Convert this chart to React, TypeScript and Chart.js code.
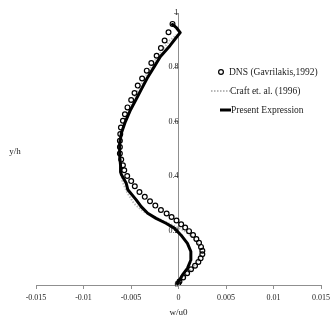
import React, { useEffect, useRef } from "react";
import { Chart, registerables } from "chart.js";

Chart.register(...registerables);

// ---- data ----
const seriesNames = ["DNS (Gavrilakis,1992)", "Craft et. al. (1996)", "Present Expression"];
const xTitle = "w/u0";
const yTitle = "y/h";

const xTickValues = [-0.015, -0.01, -0.005, 0, 0.005, 0.01, 0.015];
const xTickLabels = ["-0.015", "-0.01", "-0.005", "0", "0.005", "0.01", "0.015"];
const yTickValues = [0, 0.2, 0.4, 0.6, 0.8, 1];
const yTickLabels = ["0", "0.2", "0.4", "0.6", "0.8", "1"];

const dnsX = [
  -0.00063, -0.00105, -0.00146, -0.00185, -0.0023, -0.00286, -0.00334, -0.00383, -0.00429, -0.00463,
  -0.00498, -0.00537, -0.00564, -0.00585, -0.00606, -0.00613, -0.00617, -0.00617, -0.00617, -0.00603,
  -0.00585, -0.00571, -0.0054, -0.00498, -0.0046, -0.00411, -0.00355, -0.003, -0.00244, -0.00185,
  -0.00125, -0.00073, -0.00021, 0.00028, 0.0007, 0.00111, 0.00153, 0.00188, 0.00216, 0.00237,
  0.00251, 0.00251, 0.00233, 0.00209, 0.00174, 0.00132, 0.00091, 0.00049, 0.0001, -0.00003,
];
const dnsY = [
  0.96, 0.929, 0.899, 0.871, 0.843, 0.816, 0.788, 0.759, 0.733, 0.706,
  0.68, 0.653, 0.628, 0.604, 0.579, 0.555, 0.53, 0.507, 0.483, 0.461,
  0.44, 0.422, 0.401, 0.382, 0.363, 0.342, 0.324, 0.308, 0.292, 0.276,
  0.263, 0.25, 0.237, 0.223, 0.211, 0.198, 0.184, 0.169, 0.155, 0.14,
  0.126, 0.113, 0.098, 0.085, 0.071, 0.058, 0.043, 0.028, 0.013, 0.005,
];

const craftX = [
  -0.0001, 0.0006, 0.0013, 0.0019, 0.0022, 0.0023, 0.0021, 0.0015, 0.0006, -0.0006,
  -0.0022, -0.0037, -0.0047, -0.0054, -0.0059, -0.0061, -0.0062, -0.0061, -0.0059, -0.0055,
  -0.0049, -0.0042, -0.0034, -0.0026, -0.0018, -0.0009, -0.0002,
];
const craftY = [
  0.005, 0.03, 0.055, 0.08, 0.1, 0.125, 0.15, 0.175, 0.2, 0.22,
  0.245, 0.27, 0.3, 0.34, 0.38, 0.42, 0.47, 0.52, 0.57, 0.62,
  0.67, 0.72, 0.77, 0.82, 0.86, 0.9, 0.92,
];

const presentX = [
  -0.00063, -0.0002, 0.00018, -0.0003, -0.0009, -0.0019, -0.0026, -0.0033, -0.0039, -0.0045,
  -0.0051, -0.0056, -0.006, -0.0062, -0.0062, -0.0061, -0.0061, -0.006, -0.0055, -0.00533,
  -0.00445, -0.00393, -0.00324, -0.00236, -0.00132, -0.00045, 0.00025, 0.00094, 0.0013, 0.0013,
  0.00094, 0.00042, -0.0001,
];
const presentY = [
  0.958, 0.945, 0.928, 0.907, 0.88, 0.84, 0.8, 0.76, 0.72, 0.68,
  0.64, 0.6, 0.56, 0.52, 0.48, 0.44, 0.415, 0.405, 0.374, 0.35,
  0.313, 0.288, 0.264, 0.245, 0.227, 0.209, 0.184, 0.153, 0.123, 0.092,
  0.061, 0.037, 0.006,
];

const FONT = '"Liberation Serif", "Times New Roman", serif';
const AXIS_COLOR = "#8f8f8f";
const TEXT_COLOR = "#222";

const toPoints = (xs: number[], ys: number[]) => xs.map((x, i) => ({ x, y: ys[i] }));

const overlayPlugin = {
  id: "overlayText",
  afterDraw(chart: any) {
    const ctx = chart.ctx as CanvasRenderingContext2D;
    ctx.save();
    ctx.font = `9px ${FONT}`;
    ctx.fillStyle = TEXT_COLOR;
    ctx.textBaseline = "middle";
    ctx.textAlign = "center";
    ctx.fillText(yTitle, 15, 152);

    ctx.font = `9.5px ${FONT}`;
    ctx.textAlign = "left";
    // DNS legend
    ctx.beginPath();
    ctx.arc(221, 72, 2.4, 0, Math.PI * 2);
    ctx.lineWidth = 1.2;
    ctx.strokeStyle = "#000";
    ctx.stroke();
    ctx.fillText(seriesNames[0], 229, 72);
    // Craft legend
    ctx.beginPath();
    ctx.setLineDash([1.5, 1.5]);
    ctx.strokeStyle = "#b8b8b8";
    ctx.lineWidth = 2;
    ctx.moveTo(211, 91);
    ctx.lineTo(230, 91);
    ctx.stroke();
    ctx.setLineDash([]);
    ctx.fillText(seriesNames[1], 230, 91);
    // Present legend
    ctx.beginPath();
    ctx.strokeStyle = "#000";
    ctx.lineWidth = 3;
    ctx.moveTo(220, 110);
    ctx.lineTo(231, 110);
    ctx.stroke();
    ctx.fillText(seriesNames[2], 231, 110);
    ctx.restore();
  },
};

export default function App() {
  const canvasRef = useRef<HTMLCanvasElement | null>(null);

  useEffect(() => {
    const canvas = canvasRef.current;
    if (!canvas) return;
    const chart = new Chart(canvas, {
      type: "scatter",
      data: {
        datasets: [
          {
            label: seriesNames[2],
            data: toPoints(presentX, presentY),
            showLine: true,
            borderColor: "#000",
            borderWidth: 3,
            borderCapStyle: "round",
            borderJoinStyle: "round",
            pointRadius: 0,
            tension: 0,
            order: 0,
          },
          {
            label: seriesNames[0],
            data: toPoints(dnsX, dnsY),
            showLine: false,
            pointStyle: "circle",
            pointRadius: 2.4,
            pointBorderWidth: 1.2,
            pointBorderColor: "#000",
            pointBackgroundColor: "rgba(255,255,255,0)",
            order: 1,
          },
          {
            label: seriesNames[1],
            data: toPoints(craftX, craftY),
            showLine: true,
            borderColor: "#bdbdbd",
            borderWidth: 2,
            borderDash: [1.5, 1.5],
            pointRadius: 0,
            tension: 0,
            order: 2,
          },
        ],
      },
      options: {
        responsive: false,
        animation: false,
        devicePixelRatio: 1,
        layout: { padding: { left: 36, right: 11, top: 13, bottom: 0 } },
        plugins: {
          legend: { display: false },
          tooltip: { enabled: false },
        },
        scales: {
          x: {
            type: "linear",
            position: "bottom",
            min: -0.015,
            max: 0.015,
            afterBuildTicks: (scale: any) => {
              scale.ticks = xTickValues.map((v) => ({ value: v }));
            },
            afterFit: (scale: any) => {
              scale.height = 35;
            },
            ticks: {
              callback: (_v: any, i: number) => xTickLabels[i],
              font: { family: FONT, size: 8 },
              color: TEXT_COLOR,
              padding: 4,
              maxRotation: 0,
              autoSkip: false,
            },
            grid: {
              drawOnChartArea: false,
              drawTicks: true,
              tickLength: 4,
              color: AXIS_COLOR,
            },
            border: { display: true, color: AXIS_COLOR, width: 1 },
            title: {
              display: true,
              text: xTitle,
              font: { family: FONT, size: 9 },
              color: TEXT_COLOR,
              padding: { top: 0, bottom: 2 },
            },
          },
          y: {
            type: "linear",
            position: { x: 0 } as any,
            min: 0,
            max: 1,
            afterBuildTicks: (scale: any) => {
              scale.ticks = yTickValues.map((v) => ({ value: v }));
            },
            ticks: {
              callback: (_v: any, i: number) => yTickLabels[i],
              font: { family: FONT, size: 8 },
              color: TEXT_COLOR,
              padding: 3,
              autoSkip: false,
            },
            grid: {
              drawOnChartArea: false,
              drawTicks: true,
              tickLength: 4,
              color: AXIS_COLOR,
            },
            border: { display: true, color: AXIS_COLOR, width: 1 },
            title: { display: false },
          },
        },
      } as any,
      plugins: [overlayPlugin],
    });
    return () => chart.destroy();
  }, []);

  return (
    <div style={{ position: "absolute", left: 0, top: 0, width: 334, height: 320, background: "#fff" }}>
      <canvas ref={canvasRef} width={334} height={320} style={{ display: "block", width: 334, height: 320 }} />
    </div>
  );
}
